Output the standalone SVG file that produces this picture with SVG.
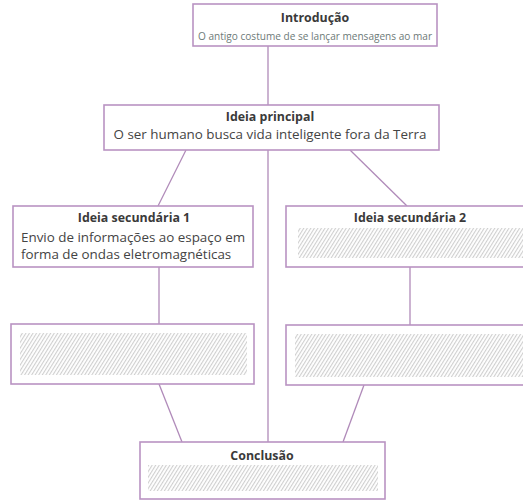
<svg xmlns="http://www.w3.org/2000/svg" width="523" height="504" viewBox="0 0 523 504">
<defs>
<pattern id="hatch" width="3" height="6" patternUnits="userSpaceOnUse" patternTransform="rotate(32)">
<line x1="0.6" y1="0" x2="0.6" y2="6" stroke="#bdbdbd" stroke-width="0.8"/>
</pattern>
<style>
.box{fill:#fff;stroke:#b993c2;stroke-width:1.6}
.con{stroke:#b08ab9;stroke-width:1.3;fill:none}
.hd{font-family:"Open Sans","Noto Sans",sans-serif;font-weight:bold;font-size:12.4px;fill:#3a3a3a;text-anchor:middle}
.tx{font-family:"Open Sans","Noto Sans",sans-serif;font-size:13.4px;fill:#444}
.hz{fill:url(#hatch)}
</style>
</defs>
<rect width="523" height="504" fill="#fff"/>
<g id="connectors">
<line class="con" x1="268" y1="46" x2="268" y2="105"/>
<line class="con" x1="268" y1="150" x2="268" y2="442"/>
<line class="con" x1="186" y1="150" x2="158" y2="206"/>
<line class="con" x1="350" y1="150" x2="407" y2="206"/>
<line class="con" x1="159" y1="267" x2="159" y2="324"/>
<line class="con" x1="410" y1="267" x2="410" y2="325"/>
<line class="con" x1="159" y1="384" x2="182" y2="442"/>
<line class="con" x1="364" y1="385" x2="343" y2="442"/>
</g>
<g id="introducao">
<rect class="box" x="193" y="4" width="244" height="42"/>
<text class="hd" x="315" y="22">Introdução</text>
<text x="315" y="40" text-anchor="middle" font-family="'Open Sans','Noto Sans',sans-serif" font-size="11.5px" fill="#6d7a78" textLength="234" lengthAdjust="spacingAndGlyphs">O antigo costume de se lançar mensagens ao mar</text>
</g>
<g id="ideia-principal">
<rect class="box" x="104" y="105" width="335" height="45"/>
<text class="hd" x="270" y="121">Ideia principal</text>
<text class="tx" x="270" y="139" text-anchor="middle">O ser humano busca vida inteligente fora da Terra</text>
</g>
<g id="ideia-secundaria-1">
<rect class="box" x="13" y="206" width="240" height="61"/>
<text class="hd" x="134" y="222">Ideia secundária 1</text>
<text class="tx" x="21" y="242">Envio de informações ao espaço em</text>
<text class="tx" x="21" y="259">forma de ondas eletromagnéticas</text>
</g>
<g id="ideia-secundaria-2">
<rect class="box" x="286" y="206" width="245" height="61"/>
<text class="hd" x="410" y="222">Ideia secundária 2</text>
<rect class="hz" x="298" y="228" width="225" height="30"/>
</g>
<g id="quadro-esquerdo">
<rect class="box" x="11" y="324" width="243" height="60"/>
<rect class="hz" x="20" y="333" width="227" height="42"/>
</g>
<g id="quadro-direito">
<rect class="box" x="286" y="325" width="245" height="60"/>
<rect class="hz" x="295" y="334" width="228" height="43"/>
</g>
<g id="conclusao">
<rect class="box" x="140" y="442" width="245" height="57"/>
<text class="hd" x="262" y="460">Conclusão</text>
<rect class="hz" x="148" y="465" width="230" height="26"/>
</g>
</svg>
